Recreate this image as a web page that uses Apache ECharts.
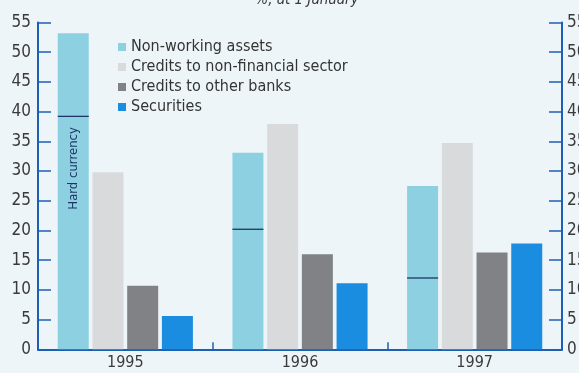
<!DOCTYPE html>
<html>
<head>
<meta charset="utf-8">
<script src="https://cdn.jsdelivr.net/npm/echarts@6/dist/echarts.min.js"></script>
<style>
  html, body { margin: 0; padding: 0; background: #eef5f9; }
  #chart { width: 579px; height: 373px; }
</style>
</head>
<body>
<div id="chart"></div>
<script>
// Bank asset structure, %, at 1 January
const years = ['1995', '1996', '1997'];
const nonWorking = [53.2, 33.1, 27.5];
const hardCurrency = [39.2, 20.2, 12.0];
const creditsNonFinancial = [29.8, 37.9, 34.7];
const creditsOtherBanks = [10.7, 16.0, 16.3];
const securities = [5.6, 11.1, 17.8];
const seriesNames = ['Non-working assets', 'Credits to non-financial sector', 'Credits to other banks', 'Securities'];
const yTicks = { min: 0, max: 55, interval: 5 };

const BAR_W = 31;
const BAR_GAP = 0.12;
const axisBlue = '#1d5fb3';
const navy = '#1e3563';
const font = '"Liberation Sans Narrow", "DejaVu Sans Condensed", "Noto Sans", sans-serif';

const chart = echarts.init(document.getElementById('chart'));

function bar(name, data, color) {
  return {
    name, type: 'bar', data, barWidth: BAR_W, barGap: (BAR_GAP * 100) + '%',
    itemStyle: { color }, yAxisIndex: 0
  };
}

// Hard-currency share marker drawn across the first bar of each group
const hardCurrencySeries = {
  type: 'custom',
  name: 'Hard currency',
  yAxisIndex: 0,
  z: 5,
  data: hardCurrency.map((v, i) => [i, v]),
  renderItem(params, api) {
    const pt = api.coord([api.value(0), api.value(1)]);
    const gap = BAR_W * BAR_GAP;
    const groupW = 4 * BAR_W + 3 * gap;
    const x0 = pt[0] - groupW / 2;
    const children = [{
      type: 'line',
      shape: { x1: x0, y1: pt[1], x2: x0 + BAR_W, y2: pt[1] },
      style: { stroke: navy, lineWidth: 1.3 }
    }];
    if (params.dataIndex === 0) {
      children.push({
        type: 'text',
        x: x0 + BAR_W / 2,
        y: pt[1] + 52,
        rotation: Math.PI / 2,
        style: {
          text: 'Hard currency', fill: navy, font: '13px ' + font,
          align: 'center', verticalAlign: 'middle'
        }
      });
    }
    return { type: 'group', children };
  }
};

const yAxisCommon = {
  type: 'value',
  min: yTicks.min, max: yTicks.max, interval: yTicks.interval,
  splitLine: { show: false },
  axisLine: { show: true, lineStyle: { color: axisBlue, width: 2 } },
  axisTick: { show: true, inside: true, length: 13, lineStyle: { color: axisBlue, width: 1.5 } },
  axisLabel: { color: '#3a3a3a', fontSize: 17, fontFamily: font, margin: 7 }
};

chart.setOption({
  backgroundColor: '#eef5f9',
  animation: false,
  title: {
    text: '%, at 1 January',
    left: 302, top: -12, textAlign: 'center',
    textStyle: { fontSize: 15, fontStyle: 'italic', fontWeight: 'normal', color: '#3a3a3a', fontFamily: font }
  },
  legend: {
    data: seriesNames,
    orient: 'vertical',
    left: 113, top: 34,
    itemWidth: 8, itemHeight: 8, itemGap: 4,
    icon: 'rect',
    textStyle: { fontSize: 16, color: '#333', fontFamily: font, padding: [0, 0, 0, 0] }
  },
  grid: { left: 38, right: 17, top: 22.5, bottom: 23.7, containLabel: false, outerBoundsMode: 'none' },
  xAxis: {
    type: 'category',
    data: years,
    axisLine: { lineStyle: { color: axisBlue, width: 2 } },
    axisTick: { show: true, inside: true, length: 7, lineStyle: { color: axisBlue, width: 1.5 } },
    axisLabel: { color: '#3a3a3a', fontSize: 16, fontFamily: font, margin: 6 }
  },
  yAxis: [
    Object.assign({}, yAxisCommon, { position: 'left' }),
    Object.assign({}, yAxisCommon, { position: 'right', axisLabel: Object.assign({}, yAxisCommon.axisLabel, { margin: 5 }) })
  ],
  series: [
    bar(seriesNames[0], nonWorking, '#8dd0e2'),
    bar(seriesNames[1], creditsNonFinancial, '#d9dadc'),
    bar(seriesNames[2], creditsOtherBanks, '#808285'),
    bar(seriesNames[3], securities, '#1b8de0'),
    hardCurrencySeries
  ]
});
</script>
</body>
</html>
